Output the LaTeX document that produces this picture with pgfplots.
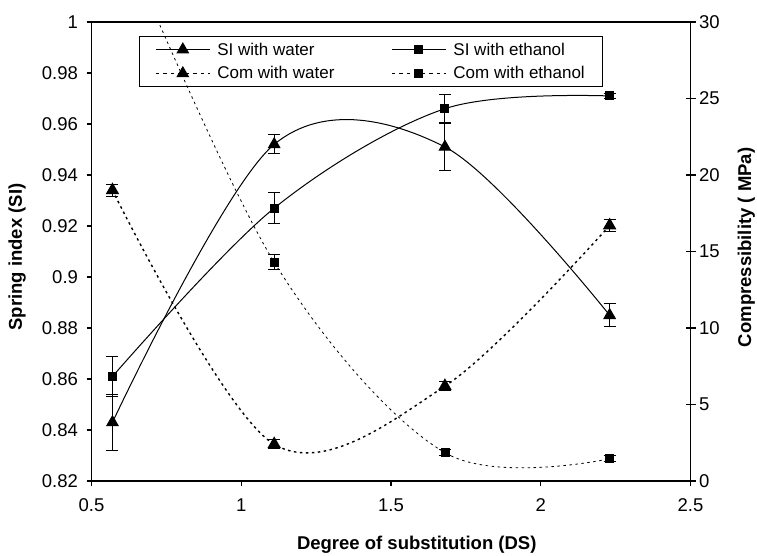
\documentclass[border=0pt]{standalone}
\usepackage{fontspec}
\setmainfont{Liberation Sans}
\usepackage{pgfplots}
\pgfplotsset{compat=1.18}

\pgfplotsset{
  base/.style={black, line width=1pt, smooth, tension=0.55,
    error bars/y dir=both, error bars/y explicit,
    error bars/error bar style={line width=1pt, solid},
    error bars/error mark options={rotate=90, mark size=6pt, line width=1pt, solid}},
  tri/.style={mark=triangle*, mark size=6.5pt, mark options={solid}},
  sq/.style={mark=square*, mark size=4pt, mark options={solid}},
  dots/.style={dash pattern=on 2.5pt off 3.5pt},
  frame/.style={
    at={(91.5pt,74pt)}, anchor=south west, scale only axis,
    width=599pt, height=459pt, xmin=0.5, xmax=2.5,
    /pgf/number format/assume math mode=true,
    tick label style={font=\fontsize{18.5}{22}\selectfont},
    axis line style={line width=1.2pt}, major tick style={line width=1.2pt, black},
    label style={font=\fontsize{18.5}{22}\selectfont\bfseries}},
}

\begin{document}
\begin{tikzpicture}[font=\fontsize{17}{20}\selectfont]
\useasboundingbox (0,0) rectangle (757pt,555pt);

\begin{axis}[frame,
  ymin=0.82, ymax=1,
  xtick={0.5,1,1.5,2,2.5},
  ytick={0.82,0.84,0.86,0.88,0.9,0.92,0.94,0.96,0.98,1},
  xtick pos=bottom, ytick pos=left, tick align=outside, major tick length=5pt,
  yticklabel style={/pgf/number format/.cd, fixed, precision=2, /tikz/.cd, xshift=-5pt},
  xticklabel style={/pgf/number format/fixed, yshift=-9pt},
  xlabel={Degree of substitution (DS)},
  ylabel={Spring index (SI)},
  xlabel style={at={(axis description cs:0.543,-0.139)}, anchor=center},
  ylabel style={at={(axis description cs:-0.124,0.488)}, anchor=center},
  legend columns=2, legend cell align=left,
  legend style={at={(axis description cs:0.079,0.969)}, anchor=north west,
    draw=black, line width=1pt, inner xsep=16pt, inner ysep=4pt,
    row sep=6pt,
    font=\fontsize{17}{20}\selectfont,
    /tikz/every odd column/.append style={column sep=5pt},
    /tikz/every even column/.append style={column sep=55pt}},
  legend image code/.code={\draw[mark repeat=2, mark phase=2, #1]
    plot coordinates {(0pt,0pt) (27pt,0pt) (54pt,0pt)};},
]
\addlegendimage{black, line width=1pt, tri}
\addlegendentry{SI with water}
\addlegendimage{black, line width=1pt, sq}
\addlegendentry{SI with ethanol}
\addlegendimage{black, line width=1pt, dash pattern=on 3.5pt off 4pt, tri}
\addlegendentry{Com with water}
\addlegendimage{black, line width=1pt, dash pattern=on 3.5pt off 4pt, sq}
\addlegendentry{Com with ethanol}

% SI with water
\addplot[base, tri] coordinates {
  (0.57,0.843) +- (0,0.011)
  (1.11,0.952) +- (0,0.0037)
  (1.68,0.951) +- (0,0.0094)
  (2.23,0.885) +- (0,0.0046)
};
% SI with ethanol
\addplot[base, sq] coordinates {
  (0.57,0.861) +- (0,0.008)
  (1.11,0.927) +- (0,0.006)
  (1.68,0.966) +- (0,0.0057)
  (2.23,0.971) +- (0,0.001)
};
\end{axis}

\begin{axis}[frame,
  ymin=0, ymax=30, ytick={0,5,10,15,20,25,30},
  axis x line=none, axis y line*=right,
  tick align=center, major tick length=10pt,
  ylabel={Compressibility ( MPa)},
  ylabel style={at={(axis description cs:1.093,0.509)}, anchor=center},
]
% Com with water
\addplot[base, tri, dots, line width=1.4pt] coordinates {
  (0.57,19.0) +- (0,0.4)
  (1.11,2.4) +- (0,0.3)
  (1.68,6.2) +- (0,0.3)
  (2.23,16.7) +- (0,0.4)
};
% Com with ethanol
\addplot[base, sq, dots, line width=0.8pt] coordinates {
  (0.57,37) +- (0,0)
  (1.11,14.3) +- (0,0.5)
  (1.68,1.85) +- (0,0.2)
  (2.23,1.45) +- (0,0.2)
};
\end{axis}
\end{tikzpicture}
\end{document}
